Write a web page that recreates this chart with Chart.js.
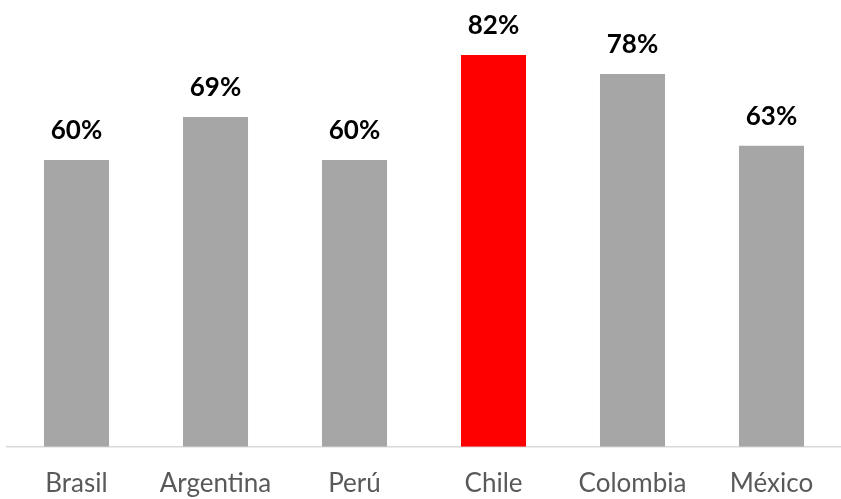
<!DOCTYPE html>
<html lang="es">
<head>
    <meta charset="UTF-8">
    <script src="https://cdn.jsdelivr.net/npm/chart.js@4/dist/chart.umd.min.js"></script>
    <title>Gráfico</title>
    <style>
        html, body{margin:0; padding:0; background:#fff;}
        div{width:841px; height:499px;}
    </style>
</head>
<body>
    <div>
        <canvas id="myChart"></canvas>
    </div>
    <script>
        const paises = ['Brasil', 'Argentina', 'Perú', 'Chile', 'Colombia', 'México']
        const valores = [60, 69, 60, 82, 78, 63]
        const colores = ['#a6a6a6', '#a6a6a6', '#a6a6a6', '#ff0000', '#a6a6a6', '#a6a6a6']

        // etiquetas de porcentaje sobre las barras
        const etiquetas = {
            id: 'etiquetas',
            afterDatasetsDraw(chart){
                const ctx = chart.ctx
                const meta = chart.getDatasetMeta(0)
                ctx.save()
                ctx.font = 'bold 26px Lato, "Open Sans", sans-serif'
                ctx.fillStyle = '#000'
                ctx.textAlign = 'center'
                ctx.textBaseline = 'alphabetic'
                meta.data.forEach(function(bar, i){
                    ctx.fillText(valores[i] + '%', bar.x, bar.y - 21)
                })
                ctx.restore()
            }
        }

        const ctx = document.getElementById('myChart').getContext('2d')
        const myChart = new Chart(ctx, {
            type: 'bar',
            data: {
                labels: paises,
                datasets: [{
                    data: valores,
                    backgroundColor: colores,
                    borderWidth: 0,
                    categoryPercentage: 1,
                    barPercentage: 0.468
                }]
            },
            options: {
                responsive: true,
                maintainAspectRatio: false,
                animation: false,
                layout: {padding: {left: 7, right: 0, top: 0, bottom: -21}},
                plugins: {legend: {display: false}, tooltip: {enabled: false}},
                scales: {
                    x: {
                        grid: {display: false, drawTicks: false},
                        border: {display: true, color: '#d9d9d9', width: 1.5},
                        ticks: {
                            color: '#595959',
                            padding: 21,
                            font: {size: 26, family: 'Lato, "Open Sans", sans-serif'}
                        }
                    },
                    y: {
                        display: false,
                        min: 0,
                        max: 93.5
                    }
                }
            },
            plugins: [etiquetas]
        })
    </script>
</body>
</html>
